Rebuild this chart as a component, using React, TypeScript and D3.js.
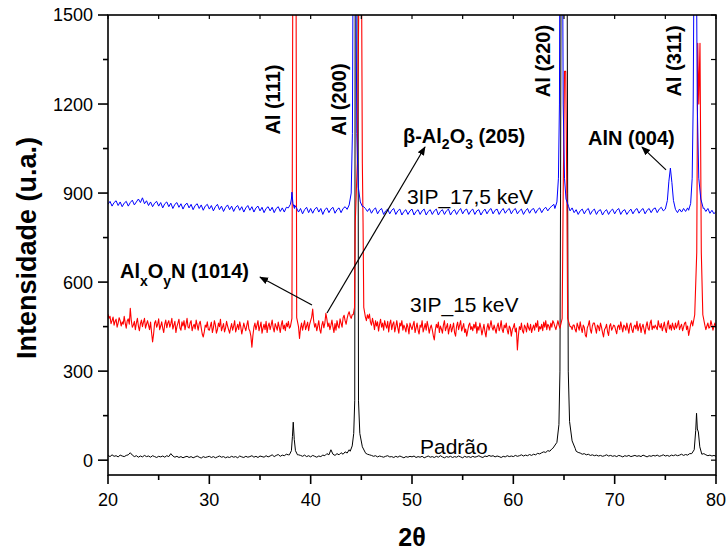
import React from 'react';
import * as d3 from 'd3';

const W = 727, H = 550;
const M = { left: 108, right: 716, top: 15, bottom: 475 };
const X_START = 20;

const X_TICKS = [20, 30, 40, 50, 60, 70, 80];
const Y_TICKS = [0, 300, 600, 900, 1200, 1500];

// Padrão (black) baseline, 20..80 step 0.2
const PADRAO_STEP = 0.2;
const padraoBase = [
  16,12,18,13,15,11,17,14,12,16,
  18,25,17,12,15,10,14,11,16,12,
  14,10,15,12,9,13,11,14,10,15,
  12,22,14,10,13,9,12,8,11,13,
  9,12,8,11,14,10,7,12,9,11,
  13,9,12,8,11,14,10,12,8,11,
  9,13,10,12,8,14,11,9,13,10,
  12,15,10,13,9,14,12,10,15,11,
  14,18,12,16,19,13,17,15,20,18,
  30,60,60,30,18,16,13,17,12,15,
  11,16,13,10,14,12,17,15,22,18,
  35,20,16,22,18,25,20,28,24,35,
  45,100,100,100,50,40,30,24,20,18,
  16,13,15,11,14,12,10,13,15,11,
  12,9,13,10,14,11,8,12,10,13,
  11,14,9,12,10,13,8,11,14,10,
  12,9,13,10,15,11,8,12,10,13,
  9,12,10,14,11,8,13,10,12,9,
  13,10,12,15,11,9,14,12,16,13,
  15,11,14,12,9,13,11,15,12,14,
  12,16,13,15,18,14,17,15,19,16,
  20,18,23,21,25,28,26,32,30,38,
  55,90,100,100,100,100,100,70,50,42,
  35,30,26,24,20,22,18,20,16,18,
  15,17,14,16,13,15,18,14,16,13,
  15,12,16,14,11,15,13,16,12,14,
  16,13,15,12,17,14,11,15,13,16,
  14,17,13,15,18,14,16,13,17,15,
  18,15,17,20,16,19,17,22,25,35,
  60,60,60,40,22,18,15,17,14,16,
  13,
];

// 3IP_15 keV (red) baseline, 20..80 step 0.1
const IP15_STEP = 0.1;
const ip15Base = [
  492,478,485,460,470,482,455,468,475,448, 462,480,470,452,466,458,485,462,445,470,
  476,458,512,470,448,455,468,440,462,478, 452,436,460,472,450,465,478,445,458,470,
  455,440,465,430,398,425,462,470,448,458, 476,440,452,466,445,430,458,472,446,462,
  470,448,460,478,442,455,468,430,450,462, 475,445,438,466,452,470,440,458,478,448,
  445,462,470,436,450,458,442,472,455,438, 460,468,446,425,415,432,455,448,466,440,
  438,452,465,430,446,470,455,428,440,462, 450,475,436,448,460,432,445,468,452,440,
  428,446,460,438,452,470,432,445,458,440, 466,450,425,442,462,448,436,455,470,442,
  435,418,381,420,448,462,440,455,470,436, 450,465,428,445,458,440,468,430,452,462,
  440,455,472,446,432,460,450,438,465,448, 430,456,470,442,455,436,462,450,468,445,
  455,465,470,470,470,460,450,440,430,410, 445,462,438,455,470,440,452,465,436,458,
  470,482,509,468,448,460,436,452,470,440, 428,455,468,446,462,495,475,450,462,440,
  455,472,448,430,460,438,470,452,445,476, 462,448,480,488,470,458,478,492,500,485,
  478,490,495,505,510,515,520,520,520,520, 520,515,505,495,483,470,490,478,492,465,
  455,478,462,440,470,452,466,435,458,475, 448,462,438,470,455,445,468,432,460,472,
  440,458,466,432,450,470,445,428,462,452, 470,438,455,446,432,460,448,425,462,450,
  440,455,468,430,446,462,438,425,455,448, 470,432,445,460,438,468,450,428,446,455,
  440,420,405,438,458,446,465,430,452,442, 428,455,470,436,448,460,425,445,458,432,
  446,462,430,418,452,465,440,455,470,435, 448,460,430,442,418,436,455,462,440,450,
  436,458,445,465,428,450,438,462,446,422, 440,458,432,415,446,460,438,452,470,448,
  438,455,442,428,450,462,436,448,470,440, 430,455,446,462,438,425,452,445,418,440,
  448,460,432,445,371,420,450,440,462,436, 428,455,448,432,462,446,438,458,430,445,
  455,438,462,448,470,434,450,442,458,436, 465,448,470,440,458,452,438,462,448,470,
  462,450,440,455,470,455,450,450,450,450, 450,450,450,450,450,460,468,450,440,455,
  455,440,432,462,450,438,466,445,430,455, 448,422,415,446,455,470,440,428,452,462,
  462,445,428,455,450,436,462,448,430,415, 440,446,458,432,420,452,460,438,446,455,
  452,438,426,450,455,440,466,448,432,455, 450,438,462,445,428,455,462,440,430,450,
  455,442,468,436,450,460,430,448,458,440, 425,452,466,444,438,462,472,440,452,445,
  455,448,440,470,452,446,460,436,450,465, 442,430,458,470,442,455,438,462,448,440,
  462,445,455,470,440,450,458,436,448,462, 465,440,452,420,438,458,470,455,480,490,
  480,480,480,480,480,480,480,480,470,455, 440,452,462,445,448,470,455,438,452,462,
  445,
];

// 3IP_17,5 keV (blue) baseline, 20..80 step 0.2
const IP175_STEP = 0.2;
const ip175Base = [
  862,872,856,868,874,858,870,854,866,872,
  856,868,876,860,870,880,868,884,864,874,
  858,870,854,866,872,856,868,850,864,870,
  854,866,848,862,868,852,864,846,860,866,
  850,862,844,858,864,848,860,842,856,862,
  846,858,840,854,862,844,856,838,852,860,
  844,856,838,852,858,842,854,836,850,858,
  842,854,836,850,856,840,852,834,848,854,
  840,852,834,848,854,838,850,836,852,856,
  860,880,860,850,836,848,830,844,852,834,
  848,832,846,852,836,848,828,844,850,834,
  846,852,832,844,850,834,848,854,845,860,
  900,1000,1000,1000,880,865,855,848,838,848,
  832,844,850,830,842,848,828,840,846,830,
  842,848,828,840,846,826,838,844,828,840,
  846,826,838,844,828,840,846,826,838,844,
  828,840,846,826,838,844,828,840,846,826,
  838,844,828,840,848,830,842,846,828,840,
  846,828,840,844,826,838,846,830,842,848,
  830,842,846,828,840,848,832,842,848,830,
  842,848,830,840,846,828,840,848,832,844,
  848,832,844,850,834,846,852,840,850,856,
  862,880,1000,1000,1000,880,860,850,840,850,
  834,844,828,840,846,830,842,848,828,840,
  846,828,840,844,826,838,844,828,840,846,
  830,842,848,828,840,844,828,838,846,830,
  842,848,832,842,848,830,842,848,834,846,
  850,834,846,852,840,900,900,900,900,850,
  844,834,846,836,848,838,850,860,900,1000,
  1000,1000,1000,880,850,838,848,832,842,830,
  838,
];

// Peaks as [2θ, intensity]
const padraoPeaks = [
  [[37.9,18],[38.1,32],[38.2,80],[38.28,128],[38.38,70],[38.5,32],[38.7,18]],
  [[43.9,30],[44.1,48],[44.25,90],[44.35,200],[44.4,1800],[44.66,1800],[44.72,200],[44.85,90],[45.1,45],[45.4,25]],
  [[63.9,40],[64.3,60],[64.5,120],[64.6,300],[64.66,900],[64.72,1800],[65.3,1800],[65.36,900],[65.42,300],[65.55,130],[65.8,65],[66.1,40]],
  [[77.6,22],[77.85,35],[78.0,100],[78.08,158],[78.16,105],[78.26,95],[78.4,45],[78.6,20]],
];

const ip15Peaks = [
  [[38.0,450],[38.15,478],[38.25,1800],[38.55,1800],[38.62,480],[38.8,450]],
  [[44.2,490],[44.33,515],[44.4,800],[44.6,1000],[44.82,1800],[45.0,1800],[45.1,1000],[45.17,800],[45.24,515],[45.4,483]],
  [[64.6,445],[64.82,478],[64.92,900],[65.05,1310],[65.17,1310],[65.28,900],[65.36,478],[65.6,450]],
  [[77.7,452],[77.9,490],[78.1,700],[78.2,1405],[78.3,1200],[78.42,1405],[78.55,700],[78.7,490],[78.9,455]],
];

const ip175Peaks = [
  [[37.8,850],[38.0,862],[38.1,880],[38.15,903],[38.25,865],[38.4,848]],
  [[43.6,845],[43.8,860],[44.0,900],[44.12,1100],[44.2,1800],[44.45,1800],[44.55,1100],[44.7,920],[44.9,870],[45.1,855]],
  [[64.1,848],[64.3,870],[64.45,950],[64.55,1200],[64.6,1800],[64.85,1800],[64.92,1200],[65.05,950],[65.2,880],[65.45,855]],
  [[75.0,846],[75.2,875],[75.35,940],[75.5,984],[75.65,935],[75.8,875],[76.0,845]],
  [[77.3,842],[77.5,865],[77.65,950],[77.75,1200],[77.85,1800],[78.05,1800],[78.15,1200],[78.3,950],[78.5,880],[78.75,848]],
];

function build(base: number[], step: number, peaks: number[][][]): number[][] {
  let pts: number[][] = base.map((v, i) => [X_START + step * i, v]);
  for (const pk of peaks) {
    const lo = pk[0][0], hi = pk[pk.length - 1][0];
    pts = pts.filter(p => p[0] < lo || p[0] > hi);
    pts = pts.concat(pk);
  }
  return pts.sort((a, b) => a[0] - b[0]);
}

const FONT = '"Liberation Sans", Arial, Helvetica, sans-serif';

export default function App() {
  const x = d3.scaleLinear().domain([20, 80]).range([M.left, M.right]);
  const y = d3.scaleLinear().domain([-50, 1500]).range([M.bottom, M.top]);
  const line = d3.line<number[]>().x(d => x(d[0])).y(d => y(d[1]));

  const series = [
    { data: build(padraoBase, PADRAO_STEP, padraoPeaks), color: '#000000', w: 1 },
    { data: build(ip15Base, IP15_STEP, ip15Peaks), color: '#ff0000', w: 1.1 },
    { data: build(ip175Base, IP175_STEP, ip175Peaks), color: '#0000ff', w: 1 },
  ];

  const xMinor = d3.range(25, 80, 10);
  const topTicks = d3.range(20, 81, 5);
  const yMinor = d3.range(150, 1500, 300);
  const rightTicks = d3.range(0, 1501, 150);

  const rotLabel = (tx: number, ty: number, label: string) => (
    <text
      key={label}
      transform={`translate(${x(tx)},${y(ty)}) rotate(-90)`}
      textAnchor="middle"
      fontSize={20}
      fontWeight="bold"
      fontFamily={FONT}
    >{label}</text>
  );

  const arrow = (x1: number, y1: number, x2: number, y2: number, k: string) => (
    <line key={k} x1={x(x1)} y1={y(y1)} x2={x(x2)} y2={y(y2)} stroke="#000" strokeWidth={1.2} markerEnd="url(#arr)" />
  );

  return (
    <svg width={W} height={H} style={{ position: 'absolute', left: 0, top: 0, background: '#fff' }}>
      <defs>
        <clipPath id="plot">
          <rect x={M.left} y={M.top} width={M.right - M.left} height={M.bottom - M.top} />
        </clipPath>
        <marker id="arr" viewBox="0 0 10 10" refX="9" refY="5" markerWidth="9" markerHeight="9" markerUnits="userSpaceOnUse" orient="auto">
          <path d="M0,1 L10,5 L0,9 Z" fill="#000" />
        </marker>
      </defs>

      <g clipPath="url(#plot)">
        {series.map((s, i) => (
          <path key={i} d={line(s.data) || ''} fill="none" stroke={s.color} strokeWidth={s.w} strokeLinejoin="round" />
        ))}
      </g>

      {/* frame */}
      <rect x={M.left} y={M.top} width={M.right - M.left} height={M.bottom - M.top} fill="none" stroke="#000" strokeWidth={1.6} />

      {/* bottom axis */}
      {X_TICKS.map(t => (
        <g key={'xt' + t}>
          <line x1={x(t)} x2={x(t)} y1={M.bottom} y2={M.bottom + 9} stroke="#000" strokeWidth={1.6} />
          <text x={x(t)} y={M.bottom + 31} textAnchor="middle" fontSize={18} fontFamily={FONT}>{t}</text>
        </g>
      ))}
      {xMinor.map(t => (
        <line key={'xm' + t} x1={x(t)} x2={x(t)} y1={M.bottom} y2={M.bottom + 5} stroke="#000" strokeWidth={1.6} />
      ))}
      {/* top axis */}
      {topTicks.map(t => (
        <line key={'tt' + t} x1={x(t)} x2={x(t)} y1={M.top} y2={M.top + 4} stroke="#000" strokeWidth={1.2} />
      ))}
      {/* left axis */}
      {Y_TICKS.map(t => (
        <g key={'yt' + t}>
          <line x1={M.left - 10} x2={M.left} y1={y(t)} y2={y(t)} stroke="#000" strokeWidth={1.6} />
          <text x={M.left - 15} y={y(t)} dy="0.36em" textAnchor="end" fontSize={18} fontFamily={FONT}>{t}</text>
        </g>
      ))}
      {yMinor.map(t => (
        <line key={'ym' + t} x1={M.left - 5} x2={M.left} y1={y(t)} y2={y(t)} stroke="#000" strokeWidth={1.6} />
      ))}
      {/* right axis */}
      {rightTicks.map(t => (
        <line key={'rt' + t} x1={M.right - 5} x2={M.right} y1={y(t)} y2={y(t)} stroke="#000" strokeWidth={1.2} />
      ))}

      {/* axis titles */}
      <text transform={`translate(36,${(M.top + M.bottom) / 2 + 3}) rotate(-90)`} textAnchor="middle" fontSize={27} fontWeight="bold" fontFamily={FONT}>Intensidade (u.a.)</text>
      <text x={x(50)} y={546} textAnchor="middle" fontSize={25} fontWeight="bold" fontFamily={FONT}>2θ</text>

      {/* peak labels */}
      {rotLabel(37.0, 1215, 'Al (111)')}
      {rotLabel(43.5, 1215, 'Al (200)')}
      {rotLabel(63.62, 1345, 'Al (220)')}
      {rotLabel(76.55, 1345, 'Al (311)')}

      <text x={x(49.11)} y={y(1069)} fontSize={20} fontWeight="bold" fontFamily={FONT} xmlSpace="preserve">
        <tspan>β-Al</tspan><tspan dy={6} fontSize={14}>2</tspan><tspan dy={-6}>O</tspan><tspan dy={6} fontSize={14}>3</tspan><tspan dy={-6}> (205)</tspan>
      </text>
      <text x={x(67.37)} y={y(1062)} fontSize={20} fontWeight="bold" fontFamily={FONT}>AlN (004)</text>
      <text x={x(21.18)} y={y(614)} fontSize={20} fontWeight="bold" fontFamily={FONT} xmlSpace="preserve">
        <tspan>Al</tspan><tspan dy={8} fontSize={14}>x</tspan><tspan dy={-8}>O</tspan><tspan dy={8} fontSize={14}>y</tspan><tspan dy={-8}>N (1014)</tspan>
      </text>

      {arrow(40.13, 523, 35.0, 617, 'a1')}
      {arrow(41.61, 496, 51.28, 1055, 'a2')}
      {arrow(75.07, 978, 72.7, 1055, 'a3')}

      {/* series labels */}
      <text x={x(49.5)} y={y(863)} fontSize={21} fontFamily={FONT}>3IP_17,5 keV</text>
      <text x={x(49.8)} y={y(499)} fontSize={21} fontFamily={FONT}>3IP_15 keV</text>
      <text x={x(50.79)} y={y(21)} fontSize={21} fontFamily={FONT}>Padrão</text>
    </svg>
  );
}
